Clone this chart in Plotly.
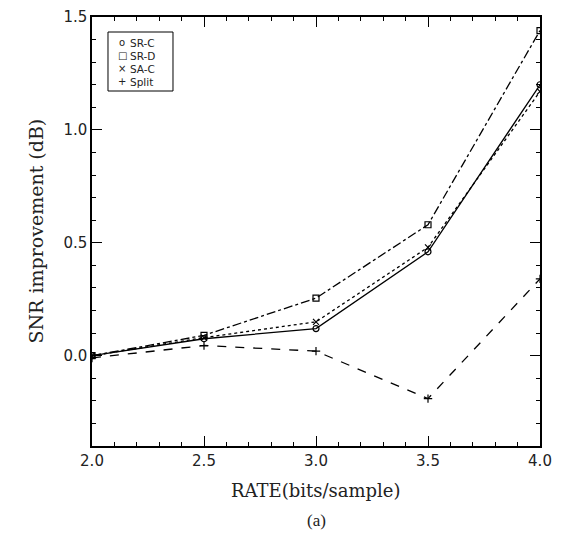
import plotly.graph_objects as go

rate = [2.0, 2.5, 3.0, 3.5, 4.0]
sr_c = [0.00, 0.075, 0.12, 0.46, 1.20]
sr_d = [0.00, 0.09, 0.255, 0.58, 1.44]
sa_c = [0.00, 0.08, 0.15, 0.48, 1.17]
split = [-0.01, 0.045, 0.02, -0.19, 0.34]

names = ["SR-C", "SR-D", "SA-C", "Split"]
series = [sr_c, sr_d, sa_c, split]
dashes = ["solid", "dashdot", "dot", "dash"]
symbols = ["circle-open", "square-open", "x-thin-open", "cross-thin-open"]
legend_glyphs = ["o", "□", "×", "+"]

fig = go.Figure()
for name, vals, dash, sym in zip(names, series, dashes, symbols):
    fig.add_trace(go.Scatter(
        x=rate, y=vals, mode="lines+markers", name=name, showlegend=False,
        line=dict(color="black", width=1.3, dash=dash),
        marker=dict(symbol=sym, size=6, color="black", line=dict(width=1.2, color="black")),
    ))

tickfont = dict(family="DejaVu Sans", size=15, color="#222")
fig.update_xaxes(
    range=[2.0, 4.0], tickvals=[2.0, 2.5, 3.0, 3.5, 4.0], ticktext=["2.0", "2.5", "3.0", "3.5", "4.0"],
    ticks="inside", ticklen=10, tickwidth=1, tickcolor="black", mirror="allticks",
    showline=True, linecolor="black", linewidth=1.5, showgrid=False, zeroline=False,
    minor=dict(dtick=0.1, ticks="inside", ticklen=4, tickcolor="black", showgrid=False),
    tickfont=tickfont, automargin=False, ticklabeloverflow="allow",
)
fig.update_yaxes(
    range=[-0.4, 1.5], tickvals=[0.0, 0.5, 1.0, 1.5], ticktext=["0.0", "0.5", "1.0", "1.5"],
    ticks="inside", ticklen=10, tickwidth=1, tickcolor="black", mirror="allticks",
    showline=True, linecolor="black", linewidth=1.5, showgrid=False, zeroline=False,
    minor=dict(dtick=0.1, ticks="inside", ticklen=4, tickcolor="black", showgrid=False),
    tickfont=tickfont, automargin=False, ticklabeloverflow="allow",
)

serif = "DejaVu Serif"
fig.add_annotation(text="RATE(bits/sample)", xref="paper", yref="paper", x=0.5, y=-0.1026,
                   yanchor="middle", showarrow=False, font=dict(family=serif, size=18, color="#222"))
fig.add_annotation(text="SNR improvement (dB)", xref="paper", yref="paper", x=-0.127, y=0.5,
                   textangle=-90, xanchor="center", yanchor="middle", showarrow=False,
                   font=dict(family=serif, size=19, color="#222"))
fig.add_annotation(text="(a)", xref="paper", yref="paper", x=0.5, y=-0.1725, yanchor="middle",
                   showarrow=False, font=dict(family="Liberation Serif", size=17, color="#222"))

# legend box drawn by hand (marker glyphs only, compact rows as in the reference)
fig.add_shape(type="rect", xref="paper", yref="paper", x0=0.0357, x1=0.1808, y0=0.8275, y1=0.965,
              line=dict(color="black", width=1), fillcolor="white")
entry_y = [0.9394, 0.9091, 0.8788, 0.8485]
for name, glyph, ey in zip(names, legend_glyphs, entry_y):
    fig.add_annotation(text=glyph, xref="paper", yref="paper", x=0.067, y=ey, xanchor="center",
                       yanchor="middle", showarrow=False, borderpad=0,
                       font=dict(family="DejaVu Sans", size=10, color="#222"))
    fig.add_annotation(text=name, xref="paper", yref="paper", x=0.0826, y=ey, xanchor="left",
                       yanchor="middle", showarrow=False, borderpad=0,
                       font=dict(family="DejaVu Sans", size=10.5, color="#222"))

# page body has an 8px margin: shrink the figure so it fits the 561x538 window
fig.update_layout(
    width=545, height=522,
    margin=dict(l=84, r=13, t=9, b=84),
    paper_bgcolor="white", plot_bgcolor="white",
    showlegend=False,
)

fig.write_html("out.html")
